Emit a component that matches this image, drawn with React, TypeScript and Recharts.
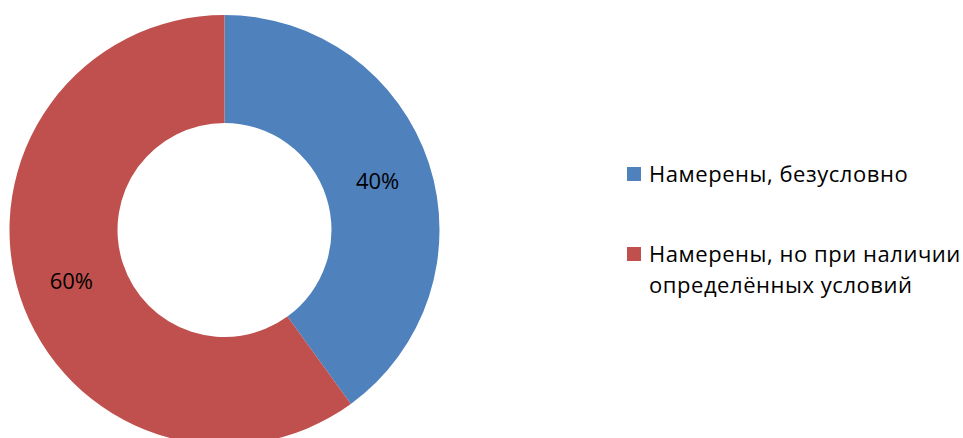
import React from "react";
import { PieChart, Pie, Cell, Legend } from "recharts";

const categories = ["Намерены, безусловно", "Намерены, но при наличии определённых условий"];
const legendLines = [["Намерены, безусловно"], ["Намерены, но при наличии", "определённых условий"]];
const values = [40, 60];
const colors = ["#4F81BD", "#C0504D"];

const data = categories.map((name, i) => ({ name, value: values[i] }));

const FONT = "'Open Sans', 'Noto Sans', sans-serif";
const RAD = Math.PI / 180;

const renderLabel = (props: any) => {
  const { cx, cy, midAngle, innerRadius, outerRadius, percent } = props;
  const r = (innerRadius + outerRadius) / 2;
  const x = cx + r * Math.cos(-midAngle * RAD);
  const y = cy + r * Math.sin(-midAngle * RAD);
  return (
    <text x={x} y={y} fill="#000" fontSize={22} fontFamily={FONT} textAnchor="middle" dominantBaseline="central">
      {`${Math.round(percent * 100)}%`}
    </text>
  );
};

const LegendContent = () => (
  <div style={{ fontFamily: FONT, fontSize: 22, color: "#000", letterSpacing: "0.55px" }}>
    {legendLines.map((lines, i) => (
      <div key={i} style={{ display: "flex", alignItems: "flex-start", marginBottom: i === 0 ? 49 : 0 }}>
        <div style={{ width: 14, height: 14, background: colors[i], marginTop: 9, marginRight: 8, flex: "none" }} />
        <div style={{ lineHeight: "31px", whiteSpace: "nowrap" }}>
          {lines.map((l, j) => (
            <div key={j}>{l}</div>
          ))}
        </div>
      </div>
    ))}
  </div>
);

export default function App() {
  return (
    <div style={{ position: "absolute", left: 0, top: 0, width: 963, height: 438, background: "#fff" }}>
      <PieChart width={963} height={438} margin={{ top: 0, right: 0, bottom: 0, left: 0 }}>
        <Pie
          data={data}
          dataKey="value"
          nameKey="name"
          cx={224.5}
          cy={230}
          outerRadius={215}
          innerRadius={107}
          startAngle={90}
          endAngle={-270}
          stroke="none"
          label={renderLabel}
          labelLine={false}
          isAnimationActive={false}
        >
          {data.map((d, i) => (
            <Cell key={i} fill={colors[i]} />
          ))}
        </Pie>
        <Legend content={<LegendContent />} wrapperStyle={{ position: "absolute", left: 627, top: 158, width: 336 }} />
      </PieChart>
    </div>
  );
}
